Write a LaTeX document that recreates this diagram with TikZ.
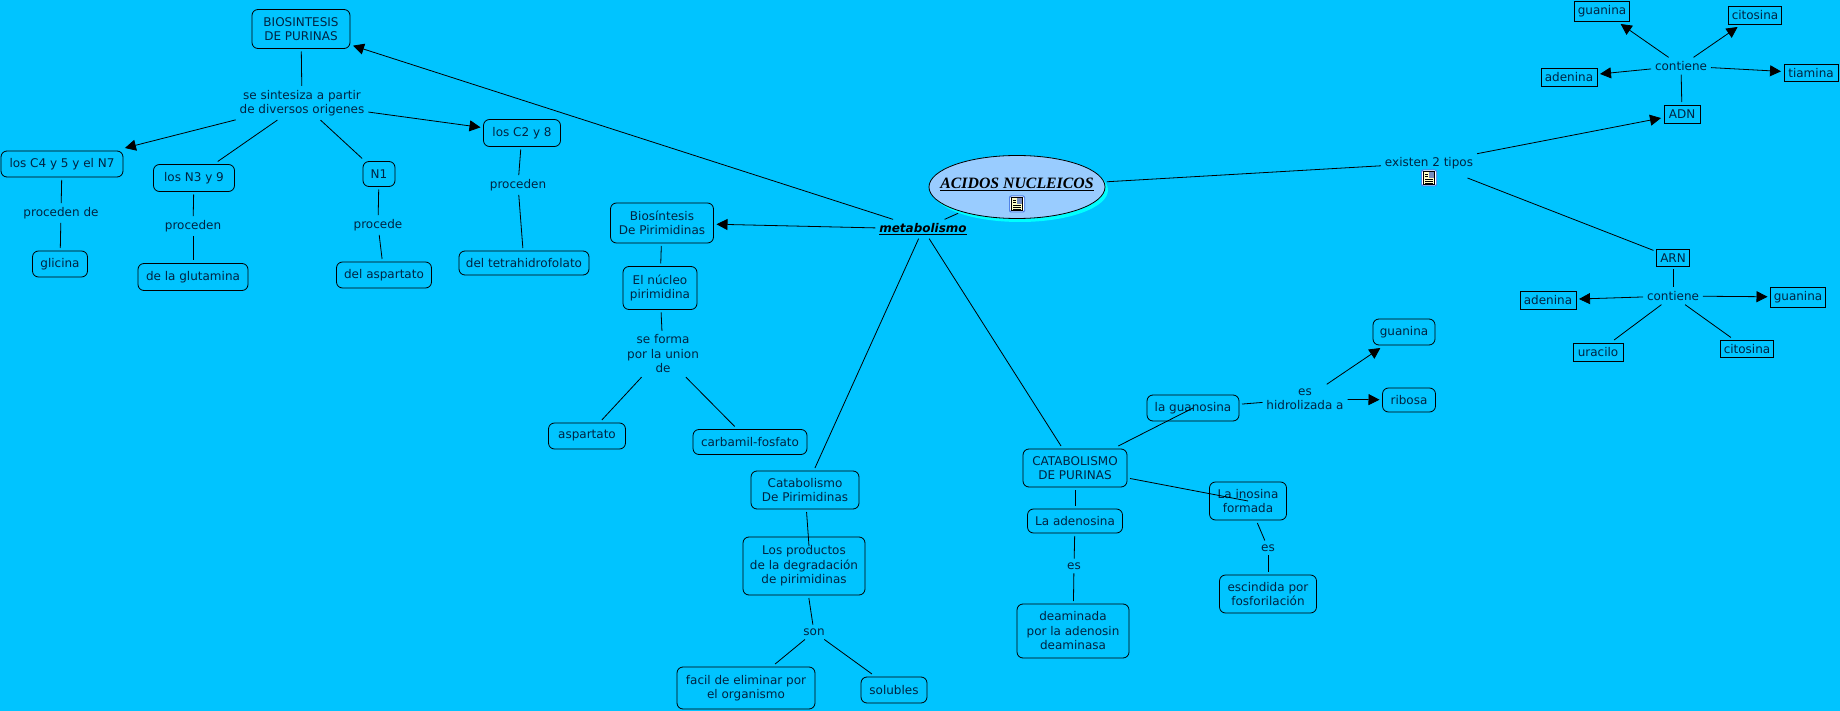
\documentclass[tikz,border=0pt]{standalone}
\usepackage{fontspec}
\setmainfont{DejaVu Sans}
\newfontfamily\titlefont{Liberation Serif}
\usetikzlibrary{shapes.geometric, arrows.meta, positioning}
\definecolor{mapblue}{RGB}{0,196,255}
\definecolor{ellblue}{RGB}{153,204,255}
\definecolor{ellglow}{RGB}{0,255,255}
\definecolor{textnavy}{RGB}{0,36,66}
\definecolor{iconblue}{RGB}{80,130,230}
\definecolor{iconpage}{RGB}{255,255,200}
\definecolor{iconimg}{RGB}{120,140,190}
\tikzset{
  txt/.style={font=\fontsize{12}{14.5}\selectfont, text=textnavy, align=center, inner sep=1pt, outer sep=3pt},
  block/.style={txt, rectangle, draw=black, rounded corners=6pt, line width=0.8pt, inner sep=0pt},
  sqblock/.style={txt, rectangle, draw=black, line width=0.8pt, inner sep=0pt},
  line/.style={line width=0.8pt, color=black},
  arrow/.style={-{Triangle[length=11pt, width=11pt]}, line width=0.8pt, color=black}
}
\newcommand{\docicon}[1]{
  \begin{scope}[shift={(#1)}]
    \fill[iconblue, rounded corners=2pt] (-8,-8.5) rectangle (8,8.5);
    \fill[white, rounded corners=1.5pt] (-7,-7.5) rectangle (7,7.5);
    \fill[iconpage, draw=black, line width=0.5pt] (-5.5,-6.5) rectangle (5.5,6.5);
    \fill[iconimg] (-0.5,-5.5) rectangle (4.5,0.5);
    \draw[line width=0.6pt] (-4,-4) -- (-1.5,-4) (-4,-1.5) -- (-1.5,-1.5) (-4,1.5) -- (4,1.5) (-4,3.3) -- (4,3.3) (-4,5) -- (4,5);
  \end{scope}
}

\begin{document}
\begin{tikzpicture}[x=1pt, y=-1pt]
  \useasboundingbox (0,0) rectangle (1840,711);
  \fill[mapblue] (0,0) rectangle (1840,711);

  % central concept
  \fill[ellglow] (1020,190) ellipse (88 and 32);
  \node[ellipse, draw=black, fill=ellblue, line width=0.8pt, minimum width=176, minimum height=63, inner sep=0pt, outer sep=3pt] (acidos) at (1017,187) {};
  \node[font=\titlefont\bfseries\itshape\fontsize{15.8}{20}\selectfont, inner sep=0pt] (titulo) at (1017,184) {\underline{ACIDOS NUCLEICOS}};
  \docicon{1017,204}
  \node[txt, text=black, font=\bfseries\itshape\fontsize{12}{14.5}\selectfont] (metab) at (923,229) {\underline{metabolismo}};

  % biosintesis de purinas
  \node[block, minimum width=98, minimum height=39] (biopur) at (301,29) {BIOSINTESIS\\DE PURINAS};
  \node[txt] (sintesis) at (302,103) {se sintesiza a partir\\de diversos origenes};
  \node[block, minimum width=122, minimum height=26] (cuatro) at (62,164) {los C4 y 5 y el N7};
  \node[block, minimum width=81, minimum height=27] (tres) at (194,178) {los N3 y 9};
  \node[block, minimum width=32, minimum height=25] (nuno) at (379,174) {N1};
  \node[block, minimum width=77, minimum height=27] (dos) at (522,133) {los C2 y 8};
  \node[txt] (pdede) at (61,213) {proceden de};
  \node[block, minimum width=55, minimum height=26] (glicina) at (60,264) {glicina};
  \node[txt] (pden) at (193,226) {proceden};
  \node[block, minimum width=110, minimum height=27] (glutamina) at (193,277) {de la glutamina};
  \node[txt] (pde) at (378,225) {procede};
  \node[block, minimum width=95, minimum height=26] (delasp) at (384,275) {del aspartato};
  \node[txt] (pdenb) at (518,185) {proceden};
  \node[block, minimum width=130, minimum height=24] (tetra) at (524,263) {del tetrahidrofolato};

  % biosintesis de pirimidinas
  \node[block, minimum width=103, minimum height=40] (biopir) at (662,223) {Biosíntesis\\De Pirimidinas};
  \node[block, minimum width=74, minimum height=43] (nucleo) at (660,288) {El núcleo\\pirimidina};
  \node[txt] (forma) at (663,354) {se forma\\por la union\\de};
  \node[block, minimum width=77, minimum height=26] (aspartato) at (587,436) {aspartato};
  \node[block, minimum width=114, minimum height=25] (carbamil) at (750,442) {carbamil-fosfato};

  % catabolismo de pirimidinas
  \node[block, minimum width=108, minimum height=38] (catapir) at (805,490) {Catabolismo\\De Pirimidinas};
  \node[block, minimum width=122, minimum height=58] (productos) at (804,566) {Los productos\\de la degradación\\de pirimidinas};
  \coordinate (prodtop) at (809,546);
  \node[txt] (son) at (814,632) {son};
  \node[block, minimum width=138, minimum height=42] (facil) at (746,688) {facil de eliminar por\\el organismo};
  \node[block, minimum width=66, minimum height=26] (solubles) at (894,690) {solubles};

  % catabolismo de purinas
  \node[block, minimum width=104, minimum height=38] (catapur) at (1075,468) {CATABOLISMO\\DE PURINAS};
  \node[block, minimum width=92, minimum height=26] (guanosina) at (1193,408) {la guanosina};
  \node[txt] (hidro) at (1305,399) {es\\hidrolizada a};
  \node[block, minimum width=62, minimum height=26] (guanina) at (1404,332) {guanina};
  \node[block, minimum width=53, minimum height=24] (ribosa) at (1409,400) {ribosa};
  \node[block, minimum width=95, minimum height=24] (adenosina) at (1075,521) {La adenosina};
  \node[txt] (esa) at (1074,566) {es};
  \node[block, minimum width=112, minimum height=54] (deaminada) at (1073,631) {deaminada\\por la adenosin\\deaminasa};
  \node[block, minimum width=77, minimum height=38] (inosina) at (1248,501) {La inosina\\formada};
  \node[txt] (esb) at (1268,548) {es};
  \node[block, minimum width=97, minimum height=38] (escindida) at (1268,594) {escindida por\\fosforilación};

  % tipos
  \node[txt, minimum height=24] (existen) at (1429,163) {existen 2 tipos};
  \docicon{1429,178}

  % ADN
  \node[sqblock, minimum width=36, minimum height=18] (adn) at (1682,114) {ADN};
  \node[txt] (contadn) at (1681,66) {contiene};
  \node[sqblock, minimum width=55, minimum height=20] (guaadn) at (1602,11) {guanina};
  \node[sqblock, minimum width=53, minimum height=18] (citadn) at (1755,15) {citosina};
  \node[sqblock, minimum width=56, minimum height=18] (adeadn) at (1569,77) {adenina};
  \node[sqblock, minimum width=54, minimum height=17] (tiamina) at (1811,73) {tiamina};

  % ARN
  \node[sqblock, minimum width=33, minimum height=17] (arn) at (1673,258) {ARN};
  \node[txt] (contarn) at (1673,296) {contiene};
  \node[sqblock, minimum width=56, minimum height=18] (adearn) at (1548,300) {adenina};
  \node[sqblock, minimum width=55, minimum height=20] (guaarn) at (1798,297) {guanina};
  \node[sqblock, minimum width=50, minimum height=18] (uracilo) at (1598,352) {uracilo};
  \node[sqblock, minimum width=53, minimum height=17] (citarn) at (1747,349) {citosina};

  % Paths
  \draw[line] (metab) -- (acidos);
  \draw[line] (acidos) -- (existen);
  \draw[arrow] (existen) -- (adn);
  \draw[line] (existen) -- (arn);
  \draw[arrow] (metab) -- (biopur);
  \draw[arrow] (metab) -- (biopir);
  \draw[line] (metab) -- (catapir);
  \draw[line] (metab) -- (catapur);

  \draw[line] (biopur) -- (sintesis);
  \draw[arrow] (sintesis) -- (cuatro);
  \draw[line] (sintesis) -- (tres);
  \draw[line] (sintesis) -- (nuno);
  \draw[arrow] (sintesis) -- (dos);
  \draw[line] (cuatro) -- (pdede);
  \draw[line] (pdede) -- (glicina);
  \draw[line] (tres) -- (pden);
  \draw[line] (pden) -- (glutamina);
  \draw[line] (nuno) -- (pde);
  \draw[line] (pde) -- (delasp);
  \draw[line] (dos) -- (pdenb);
  \draw[line] (pdenb) -- (tetra);

  \draw[line] (biopir) -- (nucleo);
  \draw[line] (nucleo) -- (forma);
  \draw[line] (forma) -- (aspartato);
  \draw[line] (forma) -- (carbamil);

  \draw[line] (catapir) -- (prodtop);
  \draw[line] (productos) -- (son);
  \draw[line] (son) -- (facil);
  \draw[line] (son) -- (solubles);

  \draw[line] (catapur) -- (guanosina.center);
  \draw[line] (catapur) -- (inosina.center);
  \draw[line] (catapur) -- (adenosina);
  \draw[line] (adenosina) -- (esa);
  \draw[line] (esa) -- (deaminada);
  \draw[line] (inosina) -- (esb);
  \draw[line] (esb) -- (escindida);
  \draw[line] (guanosina) -- (hidro);
  \draw[arrow] (hidro) -- (guanina);
  \draw[arrow] (hidro) -- (ribosa);

  % contiene
  \draw[line] (contadn) -- (adn);
  \draw[arrow] (contadn) -- (guaadn);
  \draw[arrow] (contadn) -- (citadn);
  \draw[arrow] (contadn) -- (adeadn);
  \draw[arrow] (contadn) -- (tiamina);
  \draw[line] (arn) -- (contarn);
  \draw[arrow] (contarn) -- (adearn);
  \draw[arrow] (contarn) -- (guaarn);
  \draw[line] (contarn) -- (uracilo);
  \draw[line] (contarn) -- (citarn);
\end{tikzpicture}
\end{document}
